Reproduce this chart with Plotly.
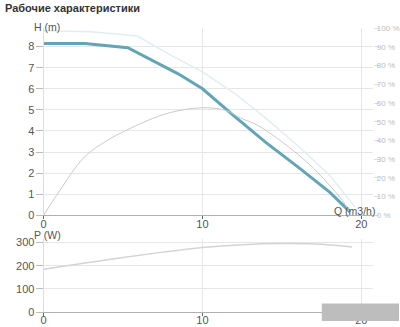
import plotly.graph_objects as go

# Head curve (m)
q_head = [0, 2.6, 5.3, 7.0, 8.5, 10.0, 12.0, 14.0, 16.0, 18.0, 19.3]
h_head = [8.15, 8.15, 7.95, 7.3, 6.7, 6.0, 4.7, 3.45, 2.3, 1.1, 0.15]

# Light (max) head curve (m)
q_max = [0, 3.0, 5.9, 8.0, 10.0, 12.0, 14.0, 16.0, 18.0, 19.6]
h_max = [8.75, 8.7, 8.5, 7.6, 6.8, 5.8, 4.6, 3.3, 1.9, 0.4]

# Efficiency curve (%)
q_eff = [0, 1.0, 2.55, 4.0, 5.1, 6.5, 8.0, 10.0, 11.5, 12.4, 13.5, 15.5, 17.0, 18.8, 19.25]
eff = [0, 13, 31, 40, 45, 50.5, 55, 57.5, 56, 52, 48, 36, 25, 8, 2]

# Power curve (W)
q_pow = [0, 2.5, 5.0, 7.5, 10.0, 12.5, 15.0, 17.5, 19.4]
p_pow = [185, 210, 235, 258, 278, 290, 295, 292, 280]

x_ticks = [0, 10, 20]
h_ticks = [0, 1, 2, 3, 4, 5, 6, 7, 8]
pct_ticks = [0, 10, 20, 30, 40, 50, 60, 70, 80, 90, 100]
pct_labels = [f"{v} %" for v in pct_ticks]
p_ticks = [0, 100, 200, 300]

FONT = "Liberation Sans, Arial, sans-serif"
H = 327.0


def py(pix):
    return (H - pix) / H


fig = go.Figure()
fig.add_trace(go.Scatter(x=q_max, y=h_max, mode="lines", line=dict(color="#e0eef2", width=1.5),
                         xaxis="x", yaxis="y", hoverinfo="skip"))
fig.add_trace(go.Scatter(x=q_eff, y=eff, mode="lines", line=dict(color="#cacaca", width=1, shape="spline"),
                         xaxis="x", yaxis="y3", hoverinfo="skip"))
fig.add_trace(go.Scatter(x=q_head, y=h_head, mode="lines", line=dict(color="#62a6b6", width=3),
                         xaxis="x", yaxis="y", hoverinfo="skip"))
fig.add_trace(go.Scatter(x=q_pow, y=p_pow, mode="lines", line=dict(color="#d4d4d4", width=1.5, shape="spline"),
                         xaxis="x2", yaxis="y2", hoverinfo="skip"))

xd = [41 / 400, 374 / 400]
xr = [0, (374 - 41) / 16.05]
axfont = dict(family=FONT, size=11, color="#555")

fig.update_layout(
    width=400, height=327,
    margin=dict(l=0, r=0, t=0, b=0),
    paper_bgcolor="white", plot_bgcolor="white",
    showlegend=False,
    xaxis=dict(domain=xd, anchor="y", range=xr, tickvals=x_ticks, showgrid=True,
               gridcolor="#e6e6e6", zeroline=False, showline=True, linecolor="#b0b0b0",
               ticks="outside", ticklen=3, tickcolor="#666", tickfont=axfont,
               ticklabelstandoff=-5),
    yaxis=dict(domain=[py(218), py(24.4)], anchor="x", range=[0, 8.9], tickvals=h_ticks,
               showgrid=True, gridcolor="#e6e6e6", zeroline=False, showline=True,
               linecolor="#dddddd", ticks="outside", ticklen=7, tickcolor="#bbbbbb",
               tickfont=axfont, ticklabelstandoff=-1),
    yaxis3=dict(overlaying="y", side="right", anchor="x", range=[0, 100.3], tickvals=pct_ticks,
                ticktext=pct_labels, showgrid=False, zeroline=False, showline=False,
                ticks="outside", ticklen=5, tickcolor="#dddddd",
                tickfont=dict(family=FONT, size=8, color="#bbbbbb"), ticklabelstandoff=-4),
    xaxis2=dict(domain=xd, anchor="y2", range=xr, tickvals=x_ticks, showgrid=True,
                gridcolor="#e6e6e6", zeroline=False, showline=True, linecolor="#b0b0b0",
                ticks="outside", ticklen=3, tickcolor="#666", tickfont=axfont,
                ticklabelstandoff=-5),
    yaxis2=dict(domain=[py(318), py(242)], anchor="x2", range=[0, 316], tickvals=p_ticks,
                showgrid=True, gridcolor="#e6e6e6", zeroline=False, showline=True,
                linecolor="#dddddd", ticks="outside", ticklen=7, tickcolor="#bbbbbb",
                tickfont=axfont, ticklabelstandoff=-1),
    annotations=[
        dict(text="<b>Рабочие характеристики</b>", x=0, y=py(4), xref="paper", yref="paper",
             xanchor="left", yanchor="middle", showarrow=False,
             font=dict(family=FONT, size=11, color="#333")),
        dict(text="H (m)", x=29 / 400, y=py(24), xref="paper", yref="paper", xanchor="left",
             yanchor="middle", showarrow=False, font=dict(family=FONT, size=10.5, color="#555")),
        dict(text="Q (m3/h)", x=378 / 400, y=py(214), xref="paper", yref="paper", xanchor="right",
             yanchor="middle", showarrow=False, font=dict(family=FONT, size=10.5, color="#555")),
        dict(text="P (W)", x=29 / 400, y=py(238), xref="paper", yref="paper", xanchor="left",
             yanchor="middle", showarrow=False, font=dict(family=FONT, size=10.5, color="#555")),
    ],
    shapes=[
        dict(type="rect", xref="paper", yref="paper", x0=322 / 400, x1=1.0, y0=0.0, y1=py(309),
             fillcolor="#bdbdbd", line=dict(width=0), layer="above"),
    ],
)

fig.write_html("out.html")
